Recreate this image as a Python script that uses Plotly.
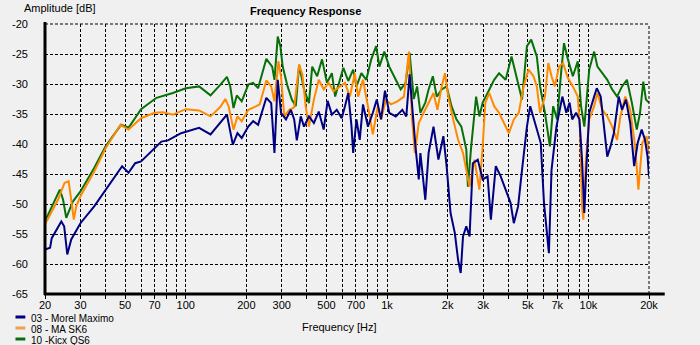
import math
import plotly.graph_objects as go

# ---------------- data (frequency Hz, amplitude dB) ----------------
morel_maximo = [
    (20, -57.6), (21.2, -57.3), (21.6, -55.7), (22.8, -54.3), (24.1, -52.9), (24.9, -53.7),
    (25.8, -58.4), (27.0, -55.9), (30, -53.2), (35.1, -50.4), (40, -47.6), (48.3, -43.7),
    (52.0, -44.8), (56.1, -43.2), (60, -42.9), (70, -40.7), (75.7, -39.6), (81.6, -39.4),
    (94.8, -38.2), (116.5, -37.3), (132.8, -38.4), (160.2, -35.1), (166.4, -37.6), (171.4, -40.1),
    (180.7, -38.2), (189.7, -39.0), (204.5, -37.1), (216.3, -36.2), (228.8, -36.8), (251.4, -32.3),
    (265.8, -33.2), (275.9, -41.5), (286.5, -29.3), (297.4, -34.8), (314.7, -35.9), (332.9, -34.3),
    (345.7, -35.9), (356.3, -39.4), (372.7, -35.4), (386.9, -37.1), (409.3, -35.4), (433.0, -36.5),
    (458.0, -34.6), (484.4, -37.6), (506.7, -32.8), (532.0, -35.1), (562.7, -34.3), (595.3, -35.7),
    (618.0, -33.7), (641.6, -31.5), (666.1, -37.1), (678.7, -41.5), (704.7, -35.9), (731.6, -39.3),
    (759.5, -33.4), (803.5, -37.1), (850.0, -34.8), (889.2, -32.6), (933.6, -35.9), (976.6, -31.1),
    (1025, -34.8), (1105, -35.4), (1191, -34.3), (1246, -35.4), (1294, -28.4), (1343, -35.4),
    (1384, -40.4), (1437, -45.9), (1464, -41.5), (1549, -49.3), (1608, -41.5), (1701, -37.1),
    (1799, -42.6), (1904, -38.7), (1976, -43.7), (2067, -51.5), (2170, -54.8), (2253, -59.3),
    (2322, -61.5), (2384, -55.4), (2475, -53.7), (2569, -55.4), (2667, -43.2), (2822, -42.6),
    (2985, -45.9), (3158, -45.4), (3278, -52.6), (3468, -43.7), (3668, -45.4), (3881, -47.6),
    (4105, -49.8), (4262, -53.2), (4475, -50.4), (4681, -44.3), (4952, -37.1), (5140, -33.7),
    (5439, -36.5), (5798, -39.8), (6018, -49.8), (6270, -56.5), (6366, -58.2), (6560, -44.3),
    (6940, -37.1), (7424, -32.1), (7766, -34.8), (8064, -33.1), (8310, -35.9), (8690, -34.8),
    (9024, -35.9), (9298, -42.6), (9544, -51.5), (9724, -45.4), (10096, -34.8), (10680, -32.1),
    (11006, -30.7), (11512, -32.1), (11952, -37.6), (12408, -42.1), (12882, -40.4), (13374, -38.2),
    (14148, -32.1), (14688, -34.3), (15364, -32.6), (16132, -36.5), (16874, -43.7), (17584, -39.8),
    (18392, -37.6), (19096, -39.3), (19678, -42.1), (20000, -45.4),
]

ma_sk6 = [
    (20, -53.4), (21.6, -51.2), (23.2, -49.3), (25.0, -46.5), (26.2, -46.2), (27.0, -49.3),
    (27.8, -52.6), (28.6, -50.4), (30, -48.7), (35.1, -44.6), (40, -40.7), (47.4, -36.8),
    (52.0, -37.6), (60, -35.7), (70, -34.8), (77.1, -34.7), (86.3, -35.1), (100, -34.2),
    (116.5, -34.4), (132.8, -35.4), (148.7, -33.8), (157.3, -32.5), (163.3, -33.7), (172.7, -37.6),
    (180.7, -35.4), (189.7, -36.2), (204.5, -34.3), (220.4, -33.8), (233.1, -33.4), (251.4, -29.4),
    (265.8, -30.4), (275.9, -32.9), (288.7, -26.2), (297.4, -28.8), (308.8, -35.4), (326.7, -34.3),
    (345.7, -33.9), (365.8, -26.8), (379.7, -28.4), (394.2, -33.7), (409.3, -37.1), (433, -32.6),
    (458, -29.3), (484.4, -30.9), (512.4, -29.8), (542, -31.2), (584.3, -30.4), (618, -29.8),
    (653.8, -32.1), (691.6, -28.2), (718, -32.1), (759.5, -29.3), (803.5, -33.7), (850, -38.4),
    (899.3, -33.7), (933.6, -35.9), (987.7, -32.6), (1045, -33.4), (1126, -32.9), (1214, -32.1),
    (1284, -24.6), (1332, -35.9), (1374, -41.5), (1437, -36.5), (1520, -34.8), (1608, -33.1),
    (1701, -31.5), (1779, -34.3), (1868, -30.4), (1939, -28.2), (2014, -32.1), (2130, -35.9),
    (2253, -39.3), (2384, -41.5), (2475, -44.3), (2569, -47.1), (2718, -42.6), (2875, -47.6),
    (2985, -40.4), (3076, -33.1), (3217, -31.5), (3403, -33.7), (3600, -34.8), (3808, -36.5),
    (4029, -38.2), (4262, -35.9), (4509, -34.8), (4770, -30.4), (5046, -27.6), (5338, -28.7),
    (5543, -30.4), (5754, -34.8), (6086, -32.1), (6322, -26.5), (6560, -28.7), (6810, -30.4),
    (7152, -27.1), (7480, -26.5), (7914, -29.0), (8372, -30.4), (8856, -32.1), (9092, -37.6),
    (9298, -50.4), (9438, -52.6), (9724, -42.6), (10096, -35.9), (10680, -33.7), (11088, -31.5),
    (11730, -34.3), (12408, -35.4), (13126, -37.1), (13884, -39.3), (14416, -35.4), (15250, -32.1),
    (16132, -34.3), (17064, -40.4), (17716, -47.6), (18532, -39.8), (19458, -38.7), (20000, -41.5),
]

kicx_qs6 = [
    (20, -52.9), (21.6, -50.4), (23.7, -47.6), (24.6, -49.3), (25.5, -52.3), (27.5, -49.6),
    (30, -47.9), (35.1, -44.0), (40, -40.4), (47.7, -36.8), (52.0, -37.3), (60, -34.2),
    (71.6, -32.3), (86.3, -31.5), (100, -30.7), (116.5, -30.4), (132.8, -31.9), (148.7, -30.1),
    (160.2, -28.8), (166.4, -30.4), (172.7, -34.0), (179.3, -31.9), (189.7, -32.9), (204.5, -30.1),
    (216.3, -29.8), (228.8, -30.7), (251.4, -25.8), (268.8, -27.1), (275.9, -29.3), (286.5, -22.1),
    (295.2, -23.7), (303.1, -27.1), (320.6, -30.4), (336.6, -32.6), (352.1, -33.7), (365.8, -26.8),
    (386.9, -30.9), (409.3, -33.2), (424.9, -27.1), (449.5, -28.7), (475.4, -25.9), (502.9, -29.8),
    (532, -28.2), (552.3, -32.1), (584.3, -29.1), (606.6, -27.3), (641.6, -29.5), (678.7, -27.6),
    (704.7, -30.4), (745.5, -28.2), (788.6, -29.3), (834.3, -25.9), (882.6, -23.7), (916.3, -27.1),
    (969.3, -24.6), (1025, -27.1), (1105, -29.3), (1169, -30.9), (1237, -29.8), (1294, -24.8),
    (1358, -32.5), (1410, -30.4), (1464, -34.8), (1549, -33.1), (1608, -30.9), (1688, -28.7),
    (1766, -32.1), (1868, -30.9), (1976, -30.4), (2090, -33.7), (2211, -35.9), (2339, -37.1),
    (2475, -40.9), (2521, -47.1), (2618, -40.4), (2769, -32.1), (2875, -35.4), (2985, -33.1),
    (3158, -31.5), (3403, -29.3), (3600, -28.2), (3881, -29.3), (4152, -25.4), (4425, -29.3),
    (4681, -32.6), (4952, -23.7), (5200, -22.6), (5543, -25.4), (5754, -30.4), (6086, -34.8),
    (6438, -40.4), (6684, -33.7), (6992, -35.9), (7342, -27.6), (7566, -23.2), (7914, -25.9),
    (8372, -28.7), (8856, -26.2), (9194, -33.7), (9544, -37.1), (10096, -27.6), (10680, -24.6),
    (11088, -27.1), (11730, -28.2), (12408, -29.3), (13126, -30.9), (13884, -32.1), (14688, -30.4),
    (15538, -29.3), (16436, -33.1), (17388, -37.6), (18052, -34.8), (18740, -29.6), (19312, -32.6),
    (20000, -33.1),
]

series_names = ["03 - Morel Maximo", "08 - MA SK6", "10 -Kicx QS6"]
series_data = [morel_maximo, ma_sk6, kicx_qs6]
series_colors = ["#000080", "#FF8A00", "#087008"]
legend_colors = ["#000080", "#F0A050", "#087008"]

x_grid_vals = [20, 30, 40, 50, 60, 70, 80, 90,
               100, 200, 300, 400, 500, 600, 700, 800, 900,
               1000, 2000, 3000, 4000, 5000, 6000, 7000, 8000, 9000, 10000, 20000]
x_tick_labels = {20: "20", 30: "30", 50: "50", 70: "70", 100: "100", 200: "200", 300: "300",
                 500: "500", 700: "700", 1000: "1k", 2000: "2k", 3000: "3k", 5000: "5k",
                 7000: "7k", 10000: "10k", 20000: "20k"}
y_tick_vals = [-20, -25, -30, -35, -40, -45, -50, -55, -60, -65]

# ---------------- layout geometry ----------------
W, H = 700, 345
L, R, T, B = 35, 649, 24, 294   # plot area in pixels
PW, PH = R - L, B - T


def px(xp):
    return (xp - L) / PW


def py(yp):
    return (B - yp) / PH


FONT = "Liberation Sans, Arial, sans-serif"
DASH = "3px,2px"

fig = go.Figure()
# draw order: green, orange, blue on top
for idx in [2, 1, 0]:
    pts = series_data[idx]
    fig.add_trace(go.Scatter(
        x=[p[0] for p in pts], y=[p[1] for p in pts], mode="lines",
        name=series_names[idx], line=dict(color=series_colors[idx], width=2),
        showlegend=False, hoverinfo="skip"))

fig.update_layout(
    width=W, height=H,
    margin=dict(l=L, r=W - R, t=T, b=H - B, pad=0),
    paper_bgcolor="#F0F0F0", plot_bgcolor="#F0F0F0",
    font=dict(family=FONT, size=11, color="black"),
    showlegend=False,
)

fig.update_xaxes(
    type="log", range=[math.log10(20), math.log10(20000)],
    tickmode="array", tickvals=x_grid_vals,
    ticktext=[x_tick_labels.get(v, "") for v in x_grid_vals],
    showgrid=True, gridcolor="black", gridwidth=1, griddash=DASH,
    ticks="outside", ticklen=4, tickcolor="black", tickwidth=1,
    showline=False, zeroline=False, tickfont=dict(size=11, family=FONT),
    ticklabelstandoff=-3,
)
fig.update_yaxes(
    range=[-65, -20], tickmode="array", tickvals=y_tick_vals,
    ticktext=[str(v) for v in y_tick_vals],
    showgrid=True, gridcolor="black", gridwidth=1, griddash=DASH,
    ticks="", showline=False, zeroline=False,
    tickfont=dict(size=11, family=FONT), ticklabelstandoff=16,
)

shapes = [
    # dashed top border (-20 dB) and right border (20 kHz)
    dict(type="line", xref="paper", yref="paper", x0=0, x1=1, y0=1, y1=1,
         line=dict(color="black", width=1, dash=DASH)),
    dict(type="line", xref="paper", yref="paper", x0=1, x1=1, y0=0, y1=1,
         line=dict(color="black", width=1, dash=DASH)),
    # thick axis lines
    dict(type="line", xref="paper", yref="paper", x0=0, x1=0, y0=py(295), y1=py(22),
         line=dict(color="black", width=3)),
    dict(type="line", xref="paper", yref="paper", x0=px(34), x1=px(665), y0=0, y1=0,
         line=dict(color="black", width=3)),
]
legend_y = [318, 329, 340]
for i in range(3):
    shapes.append(dict(type="line", xref="paper", yref="paper",
                       x0=px(5), x1=px(15), y0=py(legend_y[i] - 1), y1=py(legend_y[i] - 1),
                       line=dict(color=legend_colors[i], width=3)))
fig.update_layout(shapes=shapes)

annotations = [
    dict(text="Amplitude [dB]", x=px(12), y=py(8), xanchor="left", yanchor="middle",
         font=dict(size=11, family=FONT)),
    dict(text="<b>Frequency Response</b>", x=px(300), y=py(11), xanchor="center",
         yanchor="middle", font=dict(size=11, family=FONT)),
    dict(text="Frequency [Hz]", x=px(294), y=py(327), xanchor="left", yanchor="middle",
         font=dict(size=11, family=FONT)),
]
for i in range(3):
    annotations.append(dict(text=series_names[i], x=px(19), y=py(legend_y[i]),
                            xanchor="left", yanchor="middle",
                            font=dict(size=10, family=FONT)))
for a in annotations:
    a.update(xref="paper", yref="paper", showarrow=False)
fig.update_layout(annotations=annotations)

fig.write_html("out.html")
